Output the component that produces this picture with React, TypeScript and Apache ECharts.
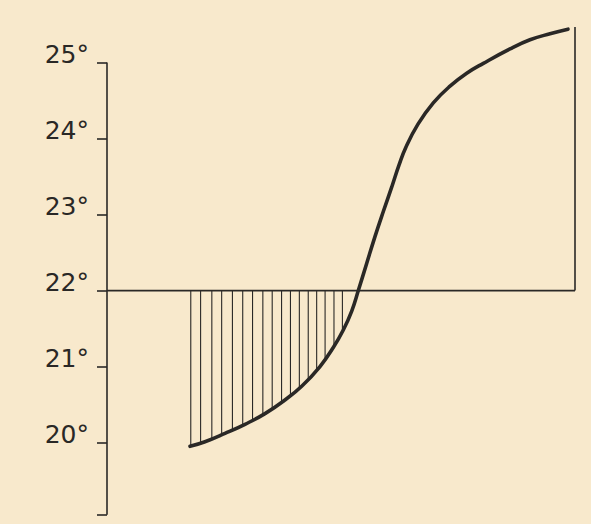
import React, { useEffect, useRef } from "react";
import * as echarts from "echarts";

// ---- data ----
const curveX = [17.74, 20.94, 25.21, 29.49, 33.76, 38.03, 41.6, 45.51, 48.35, 50.49, 52.29, 53.7, 55.5, 57.26, 59.04, 60.83, 62.39, 63.89, 66.45, 69.72, 73.29, 76.86, 80.41, 86.11, 90.38, 94.66, 98.5];
const curveY = [19.95, 20.01, 20.12, 20.24, 20.38, 20.56, 20.74, 21.0, 21.25, 21.48, 21.73, 22.0, 22.36, 22.71, 23.04, 23.36, 23.65, 23.89, 24.19, 24.47, 24.69, 24.86, 24.99, 25.18, 25.3, 25.38, 25.44];
const crossIndex = 11; // the point where the curve meets the 22° line
const hatchX = [17.9, 20.0, 22.4, 24.5, 26.8, 29.0, 31.1, 33.3, 35.3, 37.3, 39.2, 41.1, 43.0, 44.8, 46.6, 48.5, 50.3];
const baseLevel = 22;
const hatchFloor = 19.85;
const axisBottom = 19.05;
const axisTop = 25;
const rightEdgeX = 100;
const rightEdgeTop = 25.47;
const tickValues = [19.05, 20, 21, 22, 23, 24, 25];
const labelValues = [20, 21, 22, 23, 24, 25];
const yMin = 19.05;
const yMax = 25.6;
const xMin = 0;
const xMax = 100;

const INK = "#2a2826";
const PAPER = "#f8e9cc";

export default function App() {
  const ref = useRef<HTMLDivElement>(null);
  useEffect(() => {
    if (!ref.current) return;
    const chart = echarts.init(ref.current, undefined, { renderer: "svg" });
    const curve = curveX.map((x, i) => [x, curveY[i]]);
    const lower = curve.slice(0, crossIndex + 1);
    const option: any = {
      animation: false,
      backgroundColor: PAPER,
      grid: { left: 107, right: 16, top: 17, bottom: 9.3 },
      xAxis: { type: "value", min: xMin, max: xMax, show: false },
      yAxis: {
        type: "value",
        min: yMin,
        max: yMax,
        axisLine: { show: false },
        splitLine: { show: false },
        axisTick: {
          show: true,
          length: 10,
          customValues: tickValues,
          lineStyle: { color: INK, width: 1.6 },
        },
        axisLabel: {
          customValues: labelValues,
          formatter: (v: number) => `${v}°`,
          fontFamily: "DejaVu Sans",
          fontSize: 25,
          color: "#2a2826",
          margin: 18,
          verticalAlign: "bottom",
          lineHeight: 16,
        },
      },
      series: [
        {
          type: "custom",
          coordinateSystem: "cartesian2d",
          silent: true,
          clip: false,
          encode: { x: 0, y: 1 },
          data: hatchX.map((x) => [x, baseLevel]),
          renderItem: (params: any, api: any) => {
            const x = api.value(0);
            const top = api.coord([x, baseLevel]);
            const bot = api.coord([x, hatchFloor]);
            const pts = lower.map((p) => api.coord(p));
            pts.push(api.coord([lower[0][0] - 0.6, baseLevel]));
            pts.push(api.coord([lower[0][0] - 0.6, lower[0][1]]));
            return {
              type: "line",
              shape: { x1: top[0], y1: top[1], x2: bot[0], y2: bot[1] },
              style: { stroke: INK, lineWidth: 1.1 },
              clipPath: { type: "polygon", shape: { points: pts } },
            };
          },
          z: 1,
        },
        {
          type: "line",
          data: [[xMin, axisBottom], [xMin, axisTop]],
          symbol: "none",
          clip: false,
          silent: true,
          lineStyle: { color: INK, width: 1.6 },
          z: 2,
        },
        {
          type: "line",
          data: [[xMin, baseLevel], [rightEdgeX, baseLevel]],
          symbol: "none",
          clip: false,
          silent: true,
          lineStyle: { color: INK, width: 1.8 },
          z: 2,
        },
        {
          type: "line",
          data: [[rightEdgeX, baseLevel], [rightEdgeX, rightEdgeTop]],
          symbol: "none",
          clip: false,
          silent: true,
          lineStyle: { color: INK, width: 1.6 },
          z: 2,
        },
        {
          type: "line",
          data: curve,
          symbol: "none",
          smooth: 0.45,
          clip: false,
          silent: true,
          lineStyle: { color: INK, width: 3.6, cap: "round" },
          z: 3,
        },
      ],
    };
    chart.setOption(option);
    return () => chart.dispose();
  }, []);
  return (
    <div
      ref={ref}
      style={{ position: "fixed", left: 0, top: 0, width: 591, height: 524, background: PAPER }}
    />
  );
}
